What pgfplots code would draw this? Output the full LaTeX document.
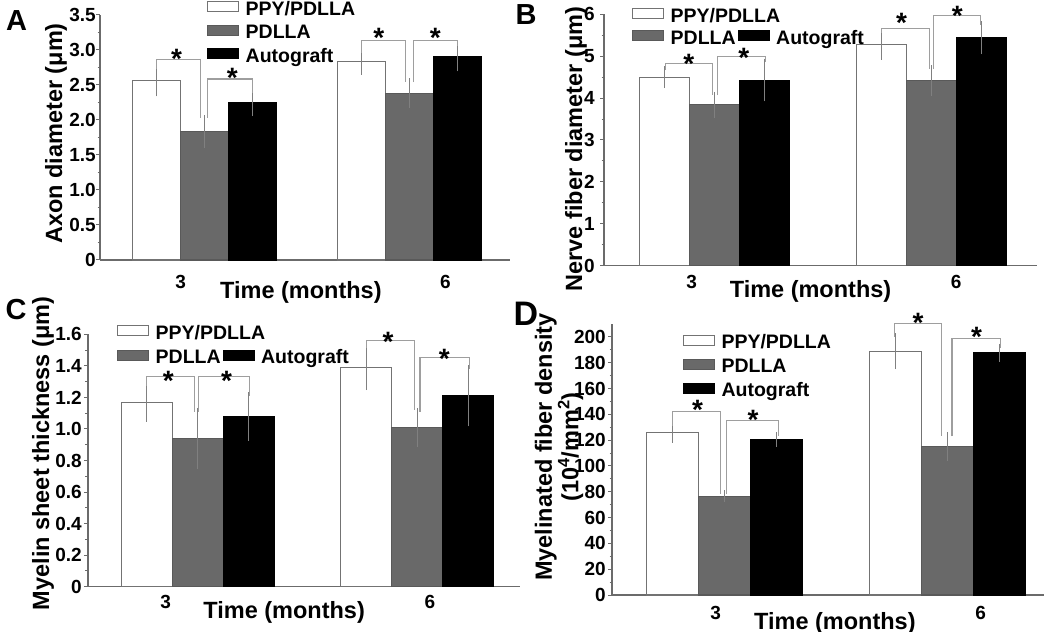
\documentclass[border=0pt]{standalone}
\usepackage{pgfplots}
\pgfplotsset{compat=1.18}
\usepackage{fontspec}
\setmainfont{Liberation Sans}
\newcommand\tickfont{\bfseries\fontsize{19bp}{20bp}\selectfont}
\newcommand\labfont{\bfseries\fontsize{23.5bp}{24bp}\selectfont}
\newcommand\labfontD{\bfseries\fontsize{23.5bp}{20bp}\selectfont}
\newcommand\legfont{\bfseries\fontsize{19.5bp}{20bp}\selectfont}
\newcommand\starfont{\bfseries\fontsize{28bp}{28bp}\selectfont}
\newcommand\letterfont{\bfseries\fontsize{29bp}{29bp}\selectfont}
\newcommand\legtxt[1]{{\legfont\rule[-4.5bp]{0pt}{18.5bp}#1}}
\definecolor{axisgray}{gray}{0.42}
\definecolor{bargray}{gray}{0.41}
\definecolor{outgray}{gray}{0.45}
\definecolor{errgray}{gray}{0.5}
\definecolor{bkgray}{gray}{0.62}
\tikzset{
  bk/.style={draw=bkgray, line width=1.1bp},
  st/.style={font=\starfont, inner sep=0pt, yshift=-6bp},
}
\pgfplotsset{
  swatch/.style={legend image code/.code={\draw[##1,line width=1bp] (0bp,-2.75bp) rectangle (31bp,7.25bp); \path[draw=none,fill=none] (0bp,0bp) (36bp,0bp);}},
  errs/.style={error bars/y dir=both, error bars/y explicit,
    error bars/error bar style={draw=errgray, line width=1bp},
    error bars/error mark options={mark size=3.8bp, draw=errgray, line width=1bp}},
  sA/.style={fill=white, draw=outgray, line width=1.1bp, swatch, errs},
  sB/.style={fill=bargray, draw=bargray!85!black, line width=1.1bp, swatch, errs},
  sC/.style={fill=black, draw=black, line width=1.1bp, swatch, errs},
  panel/.style={
    scale only axis, anchor=south west,
    ybar=0pt,
    axis x line*=bottom, axis y line*=left,
    axis line style={draw=axisgray, line width=1.2bp, -},
    ymin=0,
    tick align=outside,
    major tick length=4bp, minor tick length=2.5bp,
    every tick/.style={draw=axisgray, line width=1bp},
    xtick style={draw=none},
    minor y tick num=1,
    xticklabels={3,6},
    tick label style={font=\tickfont},
    yticklabel style={inner xsep=0bp},
    xticklabel style={anchor=center},
    /pgf/number format/assume math mode=true,
    clip=false,
    xlabel={Time (months)},
    label style={font=\labfont},
    ylabel style={anchor=center},
    xlabel style={anchor=center},
    legend cell align=left,
    legend style={draw=none, fill=none, inner sep=0pt, font=\legfont, anchor=north west,
      row sep=4bp},
  },
}
\begin{document}
\begin{tikzpicture}
\useasboundingbox (0bp,0bp) rectangle (1050bp,632bp);

% ---------------- A ----------------
\begin{axis}[panel,
  at={(100bp,372bp)}, width=410bp, height=245bp,
  xmin=-0.51, xmax=1.49, ymax=3.5, bar width=48bp,
  xtick={-0.117,1.175},
  xticklabel style={yshift=-18bp},
  ytick={0,0.5,1,1.5,2,2.5,3,3.5}, yticklabels={0,0.5,1.0,1.5,2.0,2.5,3.0,3.5},
  ylabel={Axon diameter (μm)},
  ylabel style={at={(axis description cs:-0.1073,0.516)}},
  xlabel style={at={(axis description cs:0.49,-0.1327)}},
  legend style={at={(axis description cs:0.261,1.065)}},
]
\addplot[sA, bar shift=-48bp] coordinates {(0,2.56) +- (0,0.17) (1,2.83) +- (0,0.13)};
\addlegendentry{\legtxt{PPY/PDLLA}}
\addplot[sB, bar shift=0bp] coordinates {(0,1.83) +- (0,0.18) (1,2.38) +- (0,0.16)};
\addlegendentry{\legtxt{PDLLA}}
\addplot[sC, bar shift=48bp] coordinates {(0,2.25) +- (0,0.14) (1,2.90) +- (0,0.15)};
\addlegendentry{\legtxt{Autograft}}
\draw[bk] (axis cs:-0.233,2.73) |- (axis cs:-0.02,2.867) -- (axis cs:-0.02,2.03);
\node[st] at (axis cs:-0.136,2.96) {*};
\draw[bk] (axis cs:0.015,2.03) |- (axis cs:0.235,2.586) -- (axis cs:0.235,2.39);
\node[st] at (axis cs:0.136,2.69) {*};
\draw[bk] (axis cs:0.767,2.96) |- (axis cs:0.98,3.133) -- (axis cs:0.98,2.54);
\node[st] at (axis cs:0.85,3.26) {*};
\draw[bk] (axis cs:1.02,2.54) |- (axis cs:1.233,3.133) -- (axis cs:1.233,3.05);
\node[st] at (axis cs:1.126,3.26) {*};
\end{axis}

% ---------------- B ----------------
\begin{axis}[panel,
  at={(604bp,366.3bp)}, width=433bp, height=251.4bp,
  xmin=-0.512, xmax=1.488, ymax=6, bar width=50bp,
  xtick={-0.107,1.115},
  xticklabel style={yshift=-12bp},
  yticklabel style={inner xsep=5bp},
  ytick={0,1,2,3,4,5,6},
  ylabel={Nerve fiber diameter (μm)},
  ylabel style={at={(axis description cs:-0.0645,0.464)}},
  xlabel style={at={(axis description cs:0.477,-0.1014)}},
  legend columns=2,
  legend style={at={(axis description cs:0.0647,1.033)}, row sep=2.5bp},
]
\addplot[sA, bar shift=-50bp] coordinates {(0,4.50) +- (0,0.17) (1,5.28) +- (0,0.27)};
\addlegendentry{\legtxt{\makebox[0pt][l]{PPY/PDLLA}}}
\addlegendimage{empty legend}
\addlegendentry{}
\addplot[sB, bar shift=0bp] coordinates {(0,3.84) +- (0,0.22) (1,4.41) +- (0,0.28)};
\addlegendentry{\legtxt{PDLLA\hspace{9bp}}}
\addplot[sC, bar shift=50bp] coordinates {(0,4.43) +- (0,0.42) (1,5.44) +- (0,0.30)};
\addlegendentry{\legtxt{Autograft}}
\draw[bk] (axis cs:-0.23,4.67) |- (axis cs:-0.01,4.83) -- (axis cs:-0.01,4.07);
\node[st] at (axis cs:-0.12,4.95) {*};
\draw[bk] (axis cs:0.012,4.07) |- (axis cs:0.235,4.99) -- (axis cs:0.235,4.85);
\node[st] at (axis cs:0.134,5.1) {*};
\draw[bk] (axis cs:0.77,5.55) |- (axis cs:0.99,5.67) -- (axis cs:0.99,4.69);
\node[st] at (axis cs:0.862,5.94) {*};
\draw[bk] (axis cs:1.01,4.69) |- (axis cs:1.226,5.98) -- (axis cs:1.226,5.74);
\node[st] at (axis cs:1.12,6.1) {*};
\end{axis}

% ---------------- C ----------------
\begin{axis}[panel,
  at={(88bp,45.3bp)}, width=432bp, height=252.4bp,
  xmin=-0.5, xmax=1.469, ymax=1.6, bar width=51bp,
  xtick={-0.146,1.058},
  xticklabel style={yshift=-11bp},
  yticklabel style={inner xsep=2bp},
  ytick={0,0.2,0.4,0.6,0.8,1,1.2,1.4,1.6}, yticklabels={0,0.2,0.4,0.6,0.8,1.0,1.2,1.4,1.6},
  ylabel={Myelin sheet thickness (μm)},
  ylabel style={at={(axis description cs:-0.1042,0.528)}},
  xlabel style={at={(axis description cs:0.454,-0.103)}},
  legend columns=2,
  legend style={at={(axis description cs:0.0671,1.046)}, row sep=5bp},
]
\addplot[sA, bar shift=-51bp] coordinates {(0,1.17) +- (0,0.10) (1,1.39) +- (0,0.12)};
\addlegendentry{\legtxt{\makebox[0pt][l]{PPY/PDLLA}}}
\addlegendimage{empty legend}
\addlegendentry{}
\addplot[sB, bar shift=0bp] coordinates {(0,0.94) +- (0,0.17) (1,1.01) +- (0,0.10)};
\addlegendentry{\legtxt{PDLLA\hspace{8bp}}}
\addplot[sC, bar shift=51bp] coordinates {(0,1.08) +- (0,0.13) (1,1.21) +- (0,0.17)};
\addlegendentry{\legtxt{Autograft}}
\draw[bk] (axis cs:-0.232,1.272) |- (axis cs:-0.016,1.335) -- (axis cs:-0.016,1.11);
\node[st] at (axis cs:-0.134,1.34) {*};
\draw[bk] (axis cs:0.005,1.11) |- (axis cs:0.238,1.331) -- (axis cs:0.238,1.21);
\node[st] at (axis cs:0.132,1.34) {*};
\draw[bk] (axis cs:0.77,1.51) |- (axis cs:0.99,1.56) -- (axis cs:0.99,1.12);
\node[st] at (axis cs:0.868,1.59) {*};
\draw[bk] (axis cs:1.013,1.11) |- (axis cs:1.24,1.454) -- (axis cs:1.24,1.38);
\node[st] at (axis cs:1.124,1.485) {*};
\end{axis}

% ---------------- D ----------------
\begin{axis}[panel,
  at={(612bp,37bp)}, width=432bp, height=271bp,
  xmin=-0.505, xmax=1.435, ymax=210, bar width=52bp,
  xtick={-0.04,1.151},
  xticklabel style={yshift=-14bp},
  yticklabel style={inner xsep=2bp},
  ytick={0,20,40,60,80,100,120,140,160,180,200},
  ylabel={Myelinated fiber density\\(10\textsuperscript{4}/mm\textsuperscript{2})},
  ylabel style={at={(axis description cs:-0.1227,0.546)}, align=center, font=\labfontD},
  xlabel style={at={(axis description cs:0.516,-0.1033)}},
  legend style={at={(axis description cs:0.164,0.968)}, row sep=4.3bp},
]
\addplot[sA, bar shift=-52bp] coordinates {(0,126) +- (0,5) (1,189) +- (0,11)};
\addlegendentry{\legtxt{PPY/PDLLA}}
\addplot[sB, bar shift=0bp] coordinates {(0,76.6) +- (0,1.5) (1,115) +- (0,8)};
\addlegendentry{\legtxt{PDLLA}}
\addplot[sC, bar shift=52bp] coordinates {(0,120.5) +- (0,2.5) (1,187.6) +- (0,4)};
\addlegendentry{\legtxt{Autograft}}
\draw[bk] (axis cs:-0.234,131) |- (axis cs:-0.017,142.5) -- (axis cs:-0.017,78);
\node[st] at (axis cs:-0.121,147.9) {*};
\draw[bk] (axis cs:0.009,78) |- (axis cs:0.241,135.5) -- (axis cs:0.241,123);
\node[st] at (axis cs:0.129,140.7) {*};
\draw[bk] (axis cs:0.762,200) |- (axis cs:0.975,210.4) -- (axis cs:0.975,123);
\node[st] at (axis cs:0.87,215.5) {*};
\draw[bk] (axis cs:1.022,123) |- (axis cs:1.241,198.8) -- (axis cs:1.241,191.5);
\node[st] at (axis cs:1.132,204.7) {*};
\end{axis}

\node[font=\letterfont] at (16.5bp,611.5bp) {A};
\node[font=\letterfont] at (526bp,617bp) {B};
\node[font=\letterfont] at (16bp,322bp) {C};
\node[font=\bfseries\fontsize{34bp}{34bp}\selectfont] at (526bp,318bp) {D};
\end{tikzpicture}
\end{document}
